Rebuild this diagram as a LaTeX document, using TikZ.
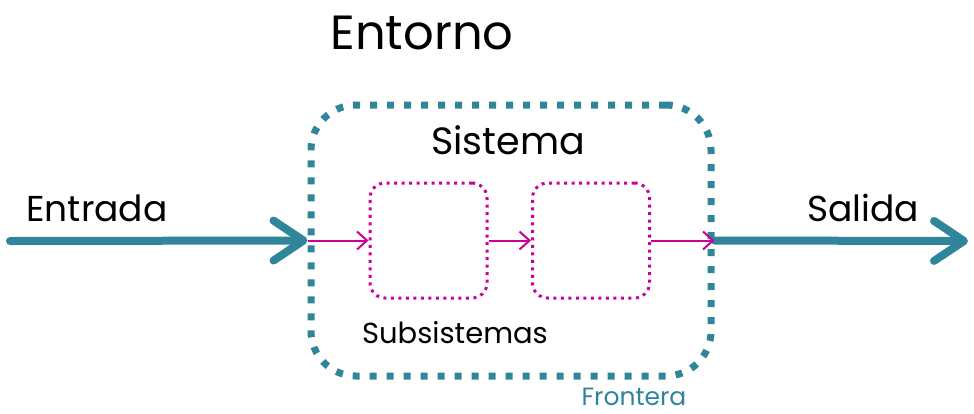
\documentclass[tikz,border=0pt]{standalone}
\usepackage{fontspec}
\setmainfont{Poppins}
\usetikzlibrary{arrows.meta}
\definecolor{teal1}{RGB}{49,133,155}
\definecolor{mag1}{RGB}{204,0,153}
\tikzset{
  frontera/.style={draw=teal1, line width=7pt, dash pattern=on 7pt off 10pt, rounded corners=45pt, minimum width=400pt, minimum height=271pt, inner sep=0pt},
  subbox/.style={draw=mag1, line width=3pt, dash pattern=on 3pt off 4.5pt, rounded corners=15pt, minimum width=117pt, minimum height=115pt, inner sep=0pt},
  flujo/.style={teal1, line width=8pt, line cap=round, -{Straight Barb[length=30pt,width=40pt,round]}},
  subflujo/.style={mag1, line width=2pt, -{Straight Barb[length=10pt,width=18pt]}}
}
\begin{document}
\begin{tikzpicture}[x=1pt,y=-1pt]
	\useasboundingbox (0,0) rectangle (974,413);
	% Define the boxes
	\node[frontera] (sistema) at (511,240.5) {};
	\node[subbox] (sub1) at (428.5,240.5) {};
	\node[subbox] (sub2) at (591,240.5) {};
	% Ends of the big arrows
	\coordinate (ini) at (10,241);
	\coordinate (fin) at (968,241);
	% Add the arrows
	\draw[flujo] (ini) -- (sistema.west);
	\draw[flujo] (sistema.east) -- (fin);
	\draw[subflujo] (sistema.west) -- (sub1.west);
	\draw[subflujo] (sub1.east) -- (sub2.west);
	\draw[subflujo] (sub2.east) -- (sistema.east);
	% Add the labels
	\node[font=\fontsize{48}{54}\selectfont] (entorno) at (422,33) {Entorno};
	\node[font=\fontsize{38}{44}\selectfont] (sislbl) at (508,140) {Sistema};
	\node[font=\fontsize{36}{42}\selectfont] (entrada) at (97,208) {Entrada};
	\node[font=\fontsize{36}{42}\selectfont] (salida) at (863,208) {Salida};
	\node[font=\fontsize{29}{34}\selectfont] (subsis) at (455,333) {Subsistemas};
	\node[font=\fontsize{25}{30}\selectfont, text=teal1, anchor=base, inner sep=0pt] (frontera) at (634,405) {Frontera};
\end{tikzpicture}
\end{document}
